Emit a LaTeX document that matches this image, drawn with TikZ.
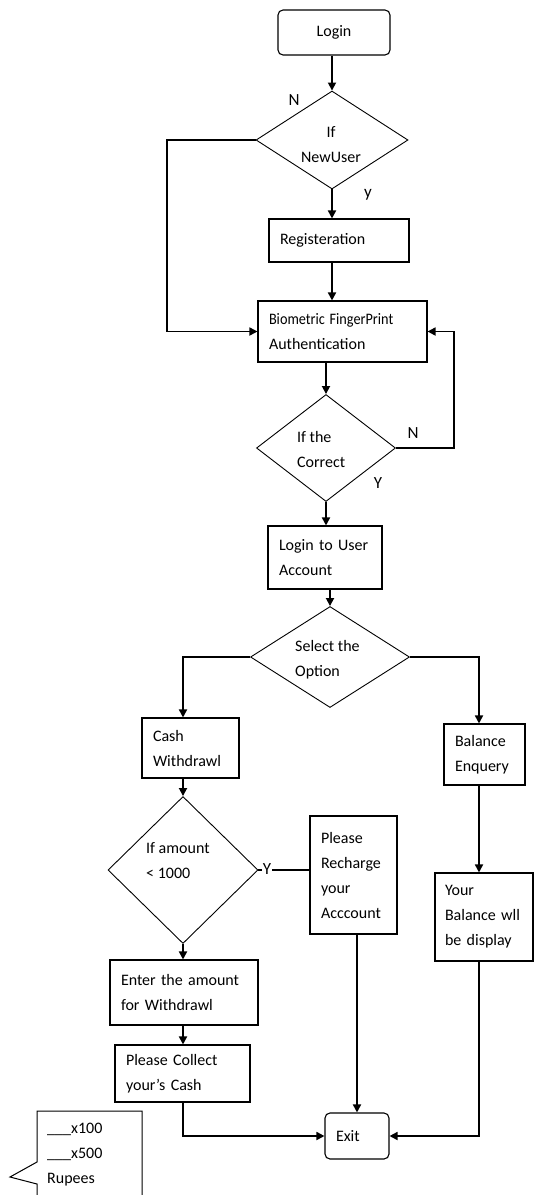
\documentclass[tikz,border=0pt]{standalone}
\usepackage{fontspec}
\setmainfont{Carlito}
\usetikzlibrary{arrows.meta,shapes.geometric}
\begin{document}
\begin{tikzpicture}[x=1pt,y=-1pt,
  every node/.style={font=\fontsize{16}{25}\selectfont, text=black},
  pbox/.style={draw, line width=1.1pt, rectangle, inner xsep=11pt, inner ysep=0pt, align=left},
  rbox/.style={pbox, rounded corners=5pt},
  dia/.style={draw, line width=0.9pt, diamond, inner sep=0pt},
  dtext/.style={inner sep=0pt},
  conn/.style={line width=1.7pt, -{Triangle[length=8pt,width=8pt]}},
  plain/.style={line width=1.5pt},
  lbl/.style={font=\fontsize{17}{20}\selectfont, inner sep=0pt}
]
\fill[white] (0,0) rectangle (534,1195);
\useasboundingbox (0,0) rectangle (534,1195);

% boxes
\node[rbox, minimum height=45pt, text width=90pt, align=center] (login) at (334,32.5) {Login};
\node[pbox, minimum height=43pt, text width=118pt] (reg) at (339,240.5) {Registeration};
\node[pbox, minimum height=61pt, text width=147pt] (bio) at (342.5,331.5) {\scalebox{0.89}[1]{Biometric FingerPrint}\\Authentication};
\node[pbox, minimum height=63pt, text width=92pt] (acct) at (325,557.5) {Login to User\\Account};
\node[pbox, minimum height=60pt, text width=75pt] (cash) at (190.5,748) {Cash\\Withdrawl};
\node[pbox, minimum height=61pt, text width=59pt] (bal) at (484.5,754.5) {Balance\\Enquery};
\node[pbox, minimum height=118pt, text width=65pt] (rech) at (353.5,875) {Please\\Recharge\\your\\Acccount};
\node[pbox, minimum height=88pt, inner xsep=10pt, text width=78pt] (your) at (484,917) {Your\\Balance wll\\be display};
\node[pbox, minimum height=65pt, text width=126pt] (enter) at (184,992.5) {Enter the amount\\for Withdrawl};
\node[pbox, minimum height=57pt, text width=113pt] (coll) at (182.5,1073.5) {Please Collect\\your’s Cash};
\node[rbox, minimum height=46pt, text width=42pt] (exit) at (357,1136) {Exit};

% decisions
\node[dia, minimum width=152pt, minimum height=98pt] (nu) at (332,140) {};
\node[dia, minimum width=139pt, minimum height=107pt] (cor) at (326,448) {};
\node[dia, minimum width=159pt, minimum height=101pt] (sel) at (330,657) {};
\node[dia, minimum width=150pt, minimum height=147pt] (amt) at (183,870) {};

\node[dtext, align=center] (nut) at (331,145) {If\\NewUser};
\node[dtext, anchor=west, align=left] (cort) at (297,449.5) {If the\\Correct};
\node[dtext, anchor=west, align=left] (selt) at (295,659.5) {Select the\\Option};
\node[dtext, anchor=west, align=left] (amtt) at (146,861) {If amount\\< 1000};

% labels
\node[lbl] (ln1) at (294,100) {N};
\node[lbl] (ly1) at (368,195) {y};
\node[lbl] (ln2) at (413,433) {N};
\node[lbl] (ly2) at (378,483) {Y};

% callout
\draw[line width=1pt] (37,1195) -- (37,1184) -- (10,1177) -- (37,1162) -- (37,1111) -- (142,1111) -- (142,1195);
\node[dtext, anchor=west, align=left] (callt) at (47,1155) {\_\_\_x100\\\_\_\_x500\\Rupees};

% helper coordinates
\coordinate (lx) at (167,0);
\coordinate (rx) at (454,0);
\coordinate (bx) at (479,0);

% connectors
\draw[conn] (nu.north |- login.south) -- (nu.north);
\draw[conn] (nu.south) -- (nu.south |- reg.north);
\draw[conn] (nu.south |- reg.south) -- (nu.south |- bio.north);
\draw[conn] (nu.west) -- (lx |- nu.west) |- (bio.west);
\draw[conn] (cor.north |- bio.south) -- (cor.north);
\draw[conn] (cor.east) -- (rx |- cor.east) |- (bio.east);
\draw[conn] (cor.south) -- (cor.south |- acct.north);
\draw[conn] (sel.north |- acct.south) -- (sel.north);
\draw[conn] (sel.west) -| (amt.north |- cash.north);
\draw[conn] (sel.east) -| (bx |- bal.north);
\draw[conn] (amt.north |- cash.south) -- (amt.north);
\draw[plain] (amt.east) -- (rech.west |- amt.east);
\node[lbl, fill=white, inner sep=0.5pt] (ly3) at (267,869) {Y};
\draw[conn] (exit.north |- rech.south) -- (exit.north);
\draw[conn] (bx |- bal.south) -- (bx |- your.north);
\draw[conn] (bx |- your.south) |- (exit.east);
\draw[conn] (amt.south) -- (amt.south |- enter.north);
\draw[conn] (amt.south |- enter.south) -- (amt.south |- coll.north);
\draw[conn] (amt.south |- coll.south) |- (exit.west);
\end{tikzpicture}
\end{document}
